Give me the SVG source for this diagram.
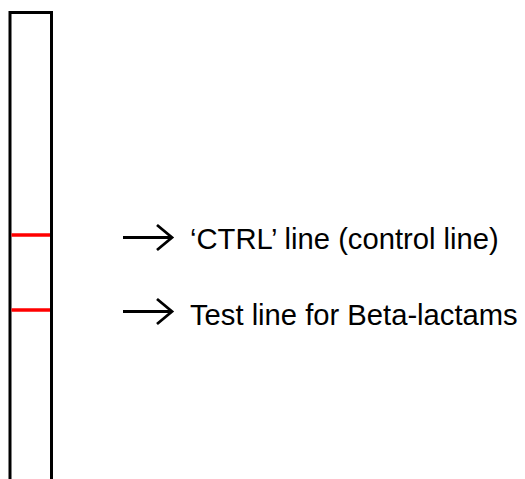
<svg xmlns="http://www.w3.org/2000/svg" width="525" height="479" viewBox="0 0 525 479">
<style>
.strip{fill:none;stroke:#000;stroke-width:3}
.band{stroke:#ff0000;stroke-width:3.5}
.arrow{fill:none;stroke:#000;stroke-width:2.8;stroke-linecap:butt;stroke-linejoin:miter}
.lbl{font-family:"Liberation Sans",Arial,sans-serif;font-size:29.2px;fill:#000}
</style>
<rect width="525" height="479" fill="#fff"/>
<g id="strip">
<path class="strip" d="M10,480 V12.5 H51.5 V480"/>
</g>
<g id="ctrl-line">
<line class="band" x1="11.5" y1="235" x2="50" y2="235"/>
</g>
<g id="test-line">
<line class="band" x1="11.5" y1="310" x2="50" y2="310"/>
</g>
<g id="connectors">
<path class="arrow" d="M123,237.5 H171 M157,225 L172,237.5 L157,250"/>
<path class="arrow" d="M123,311.5 H171 M157,299 L172,311.5 L157,324"/>
</g>
<g id="label-ctrl">
<text class="lbl" x="190" y="249">‘CTRL’ line (control line)</text>
</g>
<g id="label-test">
<text class="lbl" x="190" y="325">Test line for Beta-lactams</text>
</g>
</svg>
